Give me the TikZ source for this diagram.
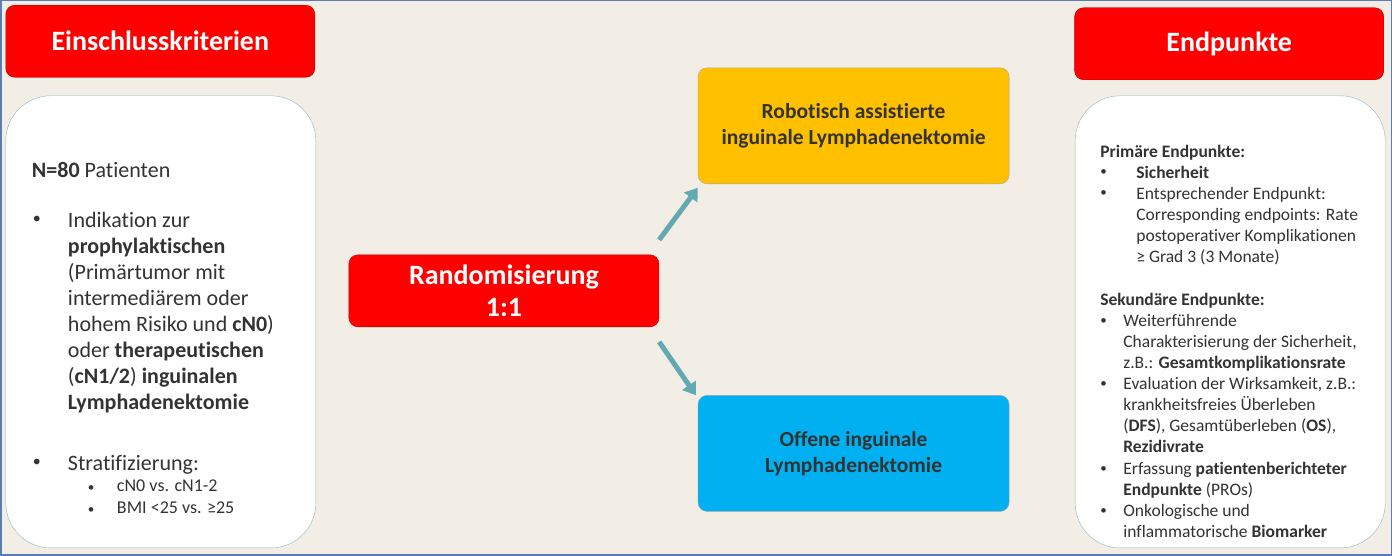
\documentclass[tikz,border=0pt]{standalone}
\usepackage{fontspec}
\setmainfont{Carlito}[Ligatures={NoCommon,TeX}]
\usetikzlibrary{positioning,arrows.meta}
\definecolor{bgbeige}{HTML}{F2EEE6}
\definecolor{framebl}{HTML}{5B7DB5}
\definecolor{hdred}{HTML}{FF0000}
\definecolor{robor}{HTML}{FFC000}
\definecolor{offbl}{HTML}{00B0F0}
\definecolor{arrteal}{HTML}{63A9B2}
\definecolor{txtgr}{HTML}{333333}
\definecolor{boxln}{HTML}{8DB8C0}
\begin{document}
\begin{tikzpicture}[x=1pt,y=-1pt,
  header/.style={draw=red!70!black,fill=hdred,rounded corners=9pt,minimum width=309pt,minimum height=72pt,text=white,font=\fontsize{28}{32}\selectfont\bfseries},
  panel/.style={draw=boxln,fill=white,rounded corners=45pt,minimum width=310pt,minimum height=452pt},
  arm/.style={draw=black!35,rounded corners=9pt,minimum width=311pt,minimum height=116pt,text=txtgr,align=center,font=\fontsize{21.5}{26}\selectfont\bfseries},
  lbl/.style={anchor=north west,inner sep=0pt,align=left,text=txtgr},
  bl/.style={anchor=north west,inner sep=0pt,text=txtgr,yshift=-3pt},
  flow/.style={draw=arrteal,line width=5pt,-{Triangle[length=12pt,width=16pt]}}]
\fill[bgbeige,draw=framebl,line width=1.5pt] (1,1) rectangle (1391,555);
% columns
\node[header] (inc) at (160.5,41.5) {Einschlusskriterien};
\node[panel] (incbox) at (161,322) {};
\node[header] (end) at (1229,44) {Endpunkte};
\node[panel] (endbox) at (1230,322) {};
% middle
\node[draw=red!70!black,fill=hdred,rounded corners=9pt,minimum width=310pt,minimum height=72pt,text=white,align=center,font=\fontsize{28}{32}\selectfont\bfseries] (rand) at (504,291) {Randomisierung\\1:1};
\node[arm,fill=robor] (robo) at (853.5,126) {Robotisch assistierte\\inguinale Lymphadenektomie};
\node[arm,fill=offbl] (off) at (853.5,453.5) {Offene inguinale\\Lymphadenektomie};
\draw[flow] (rand.east|-0,240) -- (robo.south west|-0,188);
\draw[flow] (rand.east|-0,342) -- ([xshift=-2pt]off.north west);
% left text
\begin{scope}[font=\fontsize{22}{26}\selectfont]
\node[lbl] (n80) at (32,162) {\textbf{N=80} Patienten};
\node[bl] (b1) at (33,213) {\fontsize{16}{16}\selectfont\textbullet};
\node[lbl] (t1) at (68,212) {Indikation zur\\\textbf{prophylaktischen}\\(Primärtumor mit\\intermediärem oder\\hohem Risiko und \textbf{cN0})\\oder \textbf{therapeutischen}\\(\textbf{cN1/2}) \textbf{inguinalen}\\\textbf{Lymphadenektomie}};
\node[bl] (b2) at (33,456) {\fontsize{16}{16}\selectfont\textbullet};
\node[lbl] (t2) at (68,455) {Stratifizierung:};
\end{scope}
\begin{scope}[font=\fontsize{18}{22}\selectfont]
\node[bl] (s1) at (88,482) {\fontsize{13}{13}\selectfont\textbullet};
\node[lbl] (u1) at (117,480) {cN0 vs. cN1-2\\BMI <25 vs. ≥25};
\node[bl] (s2) at (88,504) {\fontsize{13}{13}\selectfont\textbullet};
\end{scope}
% right text
\begin{scope}[font=\fontsize{17.5}{21.2}\selectfont]
\node[lbl] (prim) at (1100,145) {\textbf{Primäre Endpunkte:}};
\node[bl] (p1) at (1100,167) {\fontsize{13}{13}\selectfont\textbullet};
\node[lbl] (q1) at (1136,166) {\textbf{Sicherheit}};
\node[bl] (p2) at (1100,188) {\fontsize{13}{13}\selectfont\textbullet};
\node[lbl] (q2) at (1136,187) {Entsprechender Endpunkt:\\Corresponding endpoints: Rate\\postoperativer Komplikationen\\≥ Grad 3 (3 Monate)};
\node[lbl] (sek) at (1100,293) {\textbf{Sekundäre Endpunkte:}};
\node[bl] (r1) at (1100,315) {\fontsize{13}{13}\selectfont\textbullet};
\node[lbl] (w1) at (1123,314) {Weiterführende\\Charakterisierung der Sicherheit,\\z.B.: \textbf{Gesamtkomplikationsrate}};
\node[bl] (r2) at (1100,378) {\fontsize{13}{13}\selectfont\textbullet};
\node[lbl] (w2) at (1123,377) {Evaluation der Wirksamkeit, z.B.:\\krankheitsfreies Überleben\\(\textbf{DFS}), Gesamtüberleben (\textbf{OS}),\\\textbf{Rezidivrate}};
\node[bl] (r3) at (1100,463) {\fontsize{13}{13}\selectfont\textbullet};
\node[lbl] (w3) at (1123,462) {Erfassung \textbf{patientenberichteter}\\\textbf{Endpunkte} (PROs)};
\node[bl] (r4) at (1100,505) {\fontsize{13}{13}\selectfont\textbullet};
\node[lbl] (w4) at (1123,504) {Onkologische und\\inflammatorische \textbf{Biomarker}};
\end{scope}
\end{tikzpicture}
\end{document}
